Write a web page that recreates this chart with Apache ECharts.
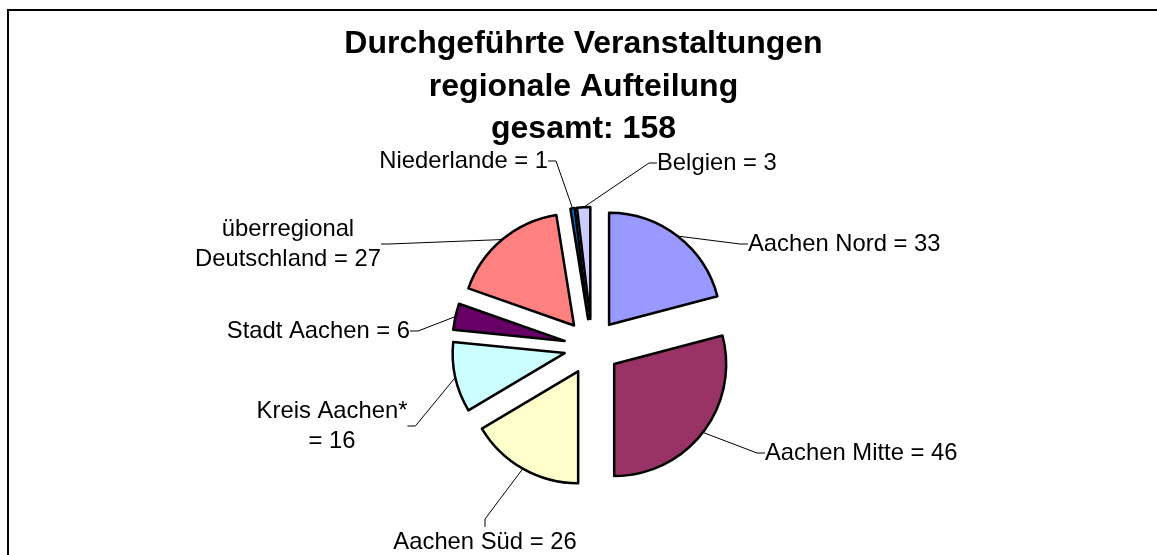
<!DOCTYPE html>
<html>
<head>
<meta charset="utf-8">
<script src="https://cdn.jsdelivr.net/npm/echarts@6/dist/echarts.min.js"></script>
<style>
  html, body { margin: 0; padding: 0; background: #fff; }
  #chart { width: 1157px; height: 555px; }
</style>
</head>
<body>
<div id="chart"></div>
<script>
const categories = ['Aachen Nord', 'Aachen Mitte', 'Aachen Süd', 'Kreis Aachen*', 'Stadt Aachen', 'überregional\nDeutschland', 'Niederlande', 'Belgien'];
const values = [33, 46, 26, 16, 6, 27, 1, 3];
const colors = ['#9999FF', '#993366', '#FFFFCC', '#CCFFFF', '#660066', '#FF8080', '#0066CC', '#CCCCFF'];
const titleLines = ['Durchgeführte Veranstaltungen', 'regionale Aufteilung', 'gesamt: 158'];

// where each label sits (Excel put them by hand)
const labelSpots = [
    { x: 748, y: 244, align: 'left' },
    { x: 765, y: 453, align: 'left' },
    { x: 485, y: 542, align: 'center' },
    { x: 332, y: 426, align: 'center' },
    { x: 410, y: 331, align: 'right' },
    { x: 288, y: 244, align: 'center' },
    { x: 548, y: 161, align: 'right' },
    { x: 657, y: 163, align: 'left' }
];

const font = '"Liberation Sans", Arial, sans-serif';
const pieCenter = [592, 347];
const explode = 28;
const total = values.reduce((a, b) => a + b, 0);

const chart = echarts.init(document.getElementById('chart'));

// every slice is pushed out along its middle angle, so each one gets its own pie
let before = 0;
const series = values.map((v, i) => {
    const mid = (before + v / 2) / total * 2 * Math.PI;
    before += v;
    return {
        type: 'pie',
        silent: true,
        center: [pieCenter[0] + explode * Math.sin(mid), pieCenter[1] - explode * Math.cos(mid)],
        radius: 112,
        startAngle: 90,
        clockwise: true,
        avoidLabelOverlap: false,
        emphasis: { disabled: true },
        data: categories.map((name, j) => ({
            name: name,
            value: values[j],
            itemStyle: j === i
                ? { color: colors[j], borderColor: '#000', borderWidth: 2.5 }
                : { color: 'rgba(0,0,0,0)', borderWidth: 0 },
            label: { show: j === i },
            labelLine: { show: j === i }
        })),
        label: {
            position: 'outside',
            fontFamily: font,
            fontSize: 23.8,
            color: '#000',
            lineHeight: 30,
            formatter: p => p.name === 'Kreis Aachen*' ? p.name + '\n= ' + p.value : p.name + ' = ' + p.value
        },
        labelLine: {
            length: 10,
            length2: 8,
            minTurnAngle: 0,
            lineStyle: { color: '#000', width: 1 }
        },
        labelLayout: params => {
            const s = labelSpots[params.dataIndex];
            return { x: s.x, y: s.y, align: s.align, verticalAlign: 'middle', hideOverlap: false };
        }
    };
});

const option = {
    backgroundColor: '#fff',
    animation: false,
    graphic: [{
        type: 'rect',
        shape: { x: 8, y: 10, width: 1170, height: 570 },
        style: { fill: 'none', stroke: '#000', lineWidth: 2 },
        silent: true
    }, {
        type: 'text',
        silent: true,
        style: {
            text: titleLines.join('\n'),
            x: 583.5,
            y: 23,
            align: 'center',
            verticalAlign: 'top',
            fontFamily: font,
            fontSize: 32,
            fontWeight: 'bold',
            lineHeight: 42.5,
            fill: '#000'
        }
    }],
    series: series
};

chart.setOption(option);
</script>
</body>
</html>
